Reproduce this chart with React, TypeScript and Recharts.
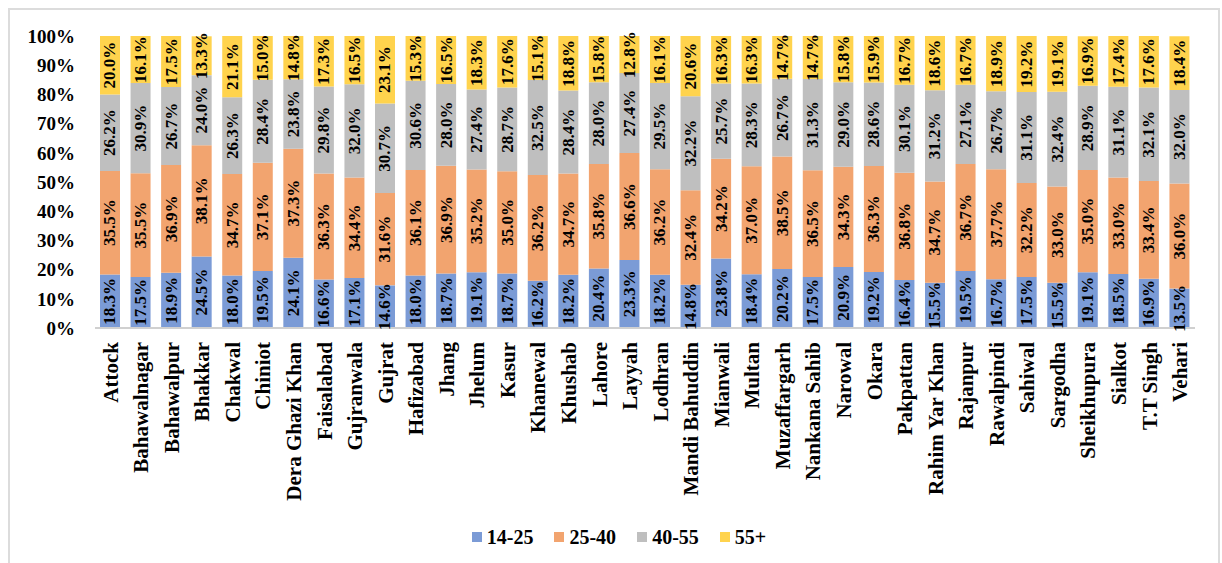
import React from 'react';
import { BarChart, Bar, XAxis, YAxis, Legend, LabelList } from 'recharts';

const districts = [
  'Attock', 'Bahawalnagar', 'Bahawalpur', 'Bhakkar', 'Chakwal', 'Chiniot', 'Dera Ghazi Khan',
  'Faisalabad', 'Gujranwala', 'Gujrat', 'Hafizabad', 'Jhang', 'Jhelum', 'Kasur', 'Khanewal',
  'Khushab', 'Lahore', 'Layyah', 'Lodhran', 'Mandi Bahuddin', 'Mianwali', 'Multan',
  'Muzaffargarh', 'Nankana Sahib', 'Narowal', 'Okara', 'Pakpattan', 'Rahim Yar Khan',
  'Rajanpur', 'Rawalpindi', 'Sahiwal', 'Sargodha', 'Sheikhupura', 'Sialkot', 'T.T Singh', 'Vehari',
];

const age14to25 = [
  18.3, 17.5, 18.9, 24.5, 18.0, 19.5, 24.1, 16.6, 17.1, 14.6, 18.0, 18.7, 19.1, 18.7, 16.2, 18.2,
  20.4, 23.3, 18.2, 14.8, 23.8, 18.4, 20.2, 17.5, 20.9, 19.2, 16.4, 15.5, 19.5, 16.7, 17.5, 15.5,
  19.1, 18.5, 16.9, 13.5,
];
const age25to40 = [
  35.5, 35.5, 36.9, 38.1, 34.7, 37.1, 37.3, 36.3, 34.4, 31.6, 36.1, 36.9, 35.2, 35.0, 36.2, 34.7,
  35.8, 36.6, 36.2, 32.4, 34.2, 37.0, 38.5, 36.5, 34.3, 36.3, 36.8, 34.7, 36.7, 37.7, 32.2, 33.0,
  35.0, 33.0, 33.4, 36.0,
];
const age40to55 = [
  26.2, 30.9, 26.7, 24.0, 26.3, 28.4, 23.8, 29.8, 32.0, 30.7, 30.6, 28.0, 27.4, 28.7, 32.5, 28.4,
  28.0, 27.4, 29.5, 32.2, 25.7, 28.3, 26.7, 31.3, 29.0, 28.6, 30.1, 31.2, 27.1, 26.7, 31.1, 32.4,
  28.9, 31.1, 32.1, 32.0,
];
const age55plus = [
  20.0, 16.1, 17.5, 13.3, 21.1, 15.0, 14.8, 17.3, 16.5, 23.1, 15.3, 16.5, 18.3, 17.6, 15.1, 18.8,
  15.8, 12.8, 16.1, 20.6, 16.3, 16.3, 14.7, 14.7, 15.8, 15.9, 16.7, 18.6, 16.7, 18.9, 19.2, 19.1,
  16.9, 17.4, 17.6, 18.4,
];

const seriesNames = ['14-25', '25-40', '40-55', '55+'];
const seriesKeys = ['a', 'b', 'c', 'd'];
const seriesColors = ['#7b9bd6', '#f2a46f', '#bfbfbf', '#ffd34d'];
const yTicks = [0, 10, 20, 30, 40, 50, 60, 70, 80, 90, 100];

const data = districts.map((name, i) => ({
  name,
  a: age14to25[i],
  b: age25to40[i],
  c: age40to55[i],
  d: age55plus[i],
}));

const FONT = '"Liberation Serif", "Times New Roman", Times, serif';

const renderLabel = (props: any) => {
  const { x, y, width, height, value } = props;
  const cx = Number(x) + Number(width) / 2;
  const cy = Number(y) + Number(height) / 2;
  return (
    <text
      x={cx}
      y={cy}
      transform={`rotate(-90 ${cx} ${cy})`}
      textAnchor="middle"
      dominantBaseline="central"
      fontSize={17}
      fontWeight="bold"
      fontFamily={FONT}
      fill="#000"
    >
      {Number(value).toFixed(1)}%
    </text>
  );
};

const XTick = (props: any) => {
  const { x, y, payload } = props;
  return (
    <g transform={`translate(${x},${y})`}>
      <text
        transform="rotate(-90)"
        textAnchor="end"
        dy="0.35em"
        fontSize={21}
        fontWeight="bold"
        fontFamily={FONT}
        fill="#000"
      >
        {payload.value}
      </text>
    </g>
  );
};

const LegendContent = (props: any) => {
  const { payload } = props;
  return (
    <div
      style={{
        display: 'flex',
        justifyContent: 'center',
        alignItems: 'center',
        paddingLeft: 43,
        height: 30,
        fontFamily: FONT,
        fontWeight: 'bold',
        fontSize: 20,
        color: '#000',
      }}
    >
      {(payload || []).map((p: any, i: number) => (
        <div key={i} style={{ display: 'flex', alignItems: 'center', marginLeft: i === 0 ? 0 : 21 }}>
          <span style={{ display: 'inline-block', width: 10, height: 10, background: p.color, marginRight: 5 }} />
          <span>{p.value}</span>
        </div>
      ))}
    </div>
  );
};

export default function App() {
  return (
    <div style={{ position: 'fixed', left: 0, top: 0, width: 1222, height: 563, background: '#fff' }}>
      <div
        style={{
          position: 'absolute',
          left: 8,
          top: 8,
          width: 1208,
          height: 600,
          border: '2px solid #dcdcdc',
          borderBottom: 'none',
        }}
      />
      <div style={{ position: 'absolute', left: 0, top: 0 }}>
        <BarChart
          width={1222}
          height={563}
          data={data}
          margin={{ top: 36, right: 27, left: 0, bottom: 11 }}
        >
          <XAxis
            dataKey="name"
            interval={0}
            height={194}
            tick={<XTick />}
            tickLine={false}
            tickSize={0}
            tickMargin={14}
            axisLine={{ stroke: '#d0d0d0', strokeWidth: 2 }}
          />
          <YAxis
            width={95}
            domain={[0, 100]}
            ticks={yTicks}
            allowDataOverflow
            axisLine={false}
            tickLine={false}
            tickSize={0}
            tickMargin={20}
            tickFormatter={(v: number) => `${v}%`}
            tick={{ fontSize: 19, fontWeight: 'bold', fontFamily: FONT, fill: '#000' }}
          />
          <Legend verticalAlign="bottom" height={30} content={<LegendContent />} />
          {seriesKeys.map((k, i) => (
            <Bar
              key={k}
              dataKey={k}
              name={seriesNames[i]}
              stackId="s"
              fill={seriesColors[i]}
              barSize={20}
              isAnimationActive={false}
            >
              <LabelList dataKey={k} content={renderLabel} />
            </Bar>
          ))}
        </BarChart>
      </div>
    </div>
  );
}
